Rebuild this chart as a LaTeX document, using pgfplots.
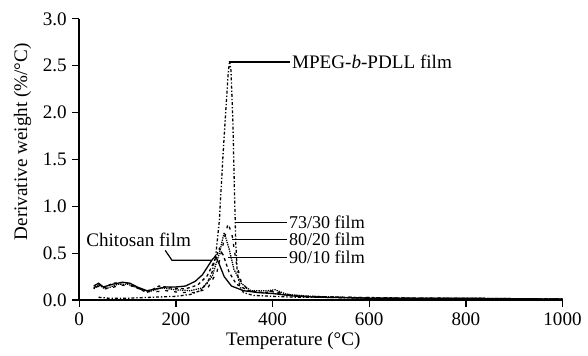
\documentclass[border=0pt]{standalone}
\usepackage{fontspec}
\setmainfont{Liberation Serif}
\usepackage{pgfplots}
\pgfplotsset{compat=1.18}
\begin{document}
\fontsize{19.3pt}{21pt}\selectfont
\begin{tikzpicture}[font=\fontsize{19.3pt}{21pt}\selectfont,
  lbl/.style={anchor=west, inner sep=0pt, xshift=1.5pt, font=\fontsize{18.2pt}{19pt}\selectfont}]
\begin{axis}[
  scale only axis,
  width=488pt, height=284pt,
  xmin=0, xmax=1000, ymin=0, ymax=3,
  axis lines*=left,
  axis line style={line width=1.5pt, -},
  xtick={0,200,...,1000},
  ytick={0,0.5,...,3.0},
  tick style={line width=1.3pt, black},
  major tick length=7pt,
  tick align=outside,
  /pgf/number format/assume math mode=true,
  /pgf/number format/1000 sep={},
  tick label style={font=\fontsize{19.3pt}{21pt}\selectfont},
  label style={font=\fontsize{19.3pt}{21pt}\selectfont},
  yticklabel style={/pgf/number format/fixed, /pgf/number format/precision=1, /pgf/number format/fixed zerofill, xshift=1pt},
  xticklabel style={yshift=1pt},
  xlabel={Temperature (°C)},
  ylabel={Derivative weight (\%/°C)},
  xlabel style={at={(axis description cs:0.443,-0.144)}, anchor=center},
  ylabel style={at={(axis description cs:-0.117,0.563)}, anchor=center},
  clip=false,
  every axis plot/.append style={black, line width=1.3pt},
]
% MPEG-b-PDLL film
\addplot[dash dot] coordinates {(40,0.03)(60,0.02)(100,0.02)(150,0.03)(200,0.04)(230,0.06)(250,0.1)(265,0.18)(275,0.3)(283,0.5)(290,0.85)(297,1.5)(303,2.0)(308,2.4)(311,2.55)(314,2.45)(318,1.9)(321,1.2)(324,0.6)(327,0.3)(332,0.15)(340,0.08)(360,0.05)(400,0.04)(450,0.03)(500,0.03)(600,0.02)(800,0.02)(1000,0.01)};
% Chitosan film
\addplot[solid] coordinates {(30,0.15)(40,0.18)(50,0.14)(70,0.17)(90,0.19)(105,0.18)(120,0.14)(140,0.1)(160,0.12)(180,0.14)(200,0.14)(220,0.15)(240,0.2)(255,0.27)(265,0.35)(275,0.43)(282,0.47)(290,0.38)(300,0.25)(315,0.15)(340,0.1)(370,0.08)(400,0.07)(450,0.04)(500,0.03)(600,0.02)(800,0.02)(1000,0.01)};
% 90/10 film
\addplot[dashed] coordinates {(30,0.13)(40,0.17)(50,0.13)(70,0.18)(95,0.19)(120,0.13)(140,0.08)(165,0.15)(190,0.13)(220,0.12)(245,0.16)(265,0.26)(280,0.42)(290,0.55)(298,0.48)(310,0.3)(325,0.17)(350,0.1)(380,0.08)(400,0.09)(420,0.06)(470,0.04)(550,0.03)(700,0.02)(1000,0.01)};
% 80/20 film
\addplot[densely dotted] coordinates {(30,0.12)(40,0.16)(55,0.12)(80,0.17)(100,0.17)(125,0.12)(145,0.09)(170,0.13)(200,0.11)(230,0.1)(255,0.13)(275,0.25)(290,0.5)(300,0.72)(310,0.55)(320,0.33)(335,0.18)(355,0.1)(390,0.1)(405,0.11)(430,0.06)(480,0.04)(600,0.02)(1000,0.01)};
% 73/30 film
\addplot[loosely dashed] coordinates {(35,0.14)(45,0.15)(60,0.12)(85,0.16)(110,0.15)(135,0.1)(160,0.09)(180,0.1)(210,0.08)(240,0.08)(265,0.12)(285,0.3)(298,0.6)(308,0.82)(316,0.7)(325,0.4)(335,0.2)(350,0.1)(380,0.08)(400,0.1)(420,0.07)(460,0.04)(550,0.03)(700,0.02)(1000,0.01)};
% annotations
\draw[line width=1.3pt] (axis cs:313,2.54) -- (axis cs:436,2.54) node[lbl, font=\fontsize{19.3pt}{21pt}\selectfont] {MPEG-\textit{b}-PDLL film};
\draw[line width=1.3pt] (axis cs:322,0.826) -- (axis cs:430,0.826) node[lbl] {73/30 film};
\draw[line width=1.3pt] (axis cs:316,0.646) -- (axis cs:430,0.646) node[lbl] {80/20 film};
\draw[line width=1.3pt] (axis cs:307,0.455) -- (axis cs:430,0.455) node[lbl] {90/10 film};
\node at (axis cs:123,0.646) {Chitosan film};
\draw[line width=1.2pt] (axis cs:178,0.53) -- (axis cs:192,0.424) -- (axis cs:273,0.424);
\path (rel axis cs:-0.1639,-0.1866) rectangle (rel axis cs:1.041,1.0669);
\end{axis}
\end{tikzpicture}
\end{document}
